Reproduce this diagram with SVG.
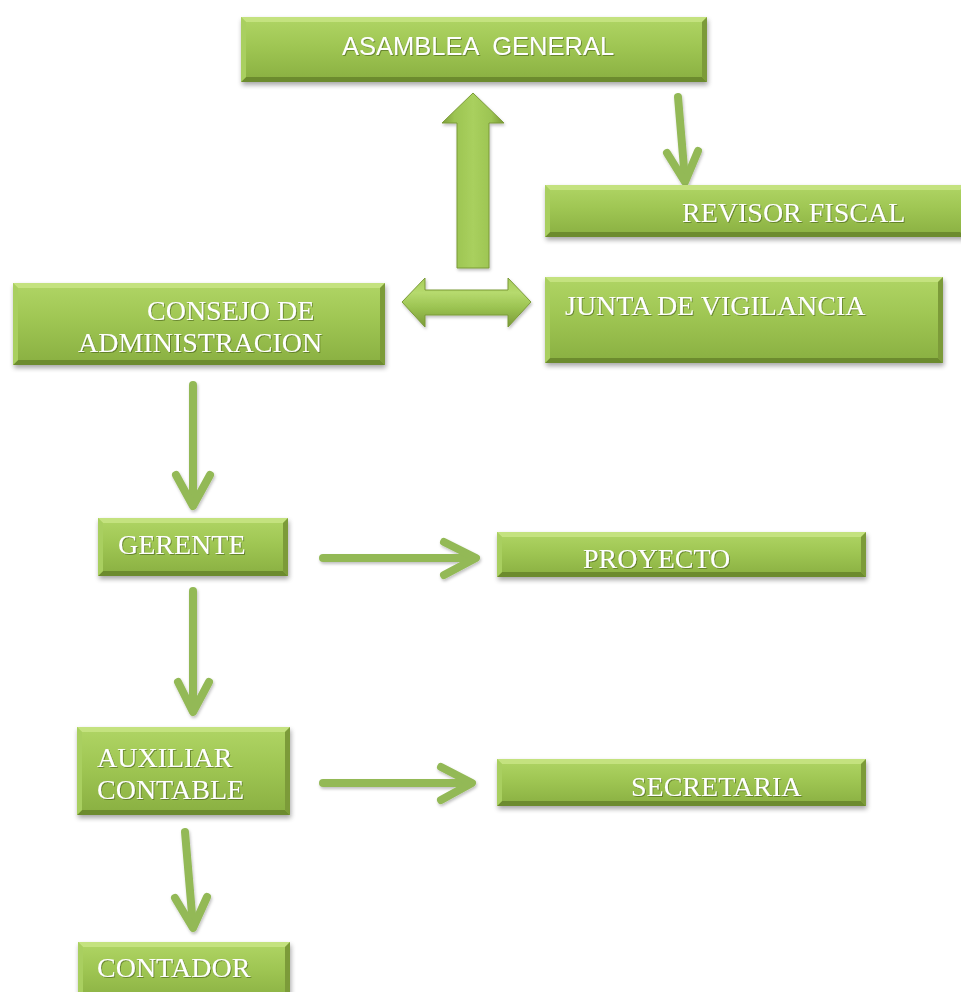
<svg xmlns="http://www.w3.org/2000/svg" width="961" height="992" viewBox="0 0 961 992">
<defs>
<linearGradient id="gBox" x1="0" y1="0" x2="0" y2="1">
<stop offset="0" stop-color="#b0d565"/>
<stop offset="0.45" stop-color="#9fc653"/>
<stop offset="1" stop-color="#89af41"/>
</linearGradient>
<linearGradient id="gUp" x1="0" y1="0" x2="1" y2="0">
<stop offset="0" stop-color="#7e9f3a"/>
<stop offset="0.2" stop-color="#9cc452"/>
<stop offset="0.5" stop-color="#a9d05e"/>
<stop offset="0.8" stop-color="#9cc452"/>
<stop offset="1" stop-color="#7a9a37"/>
</linearGradient>
<linearGradient id="gHz" x1="0" y1="0" x2="0" y2="1">
<stop offset="0" stop-color="#a7cd5c"/>
<stop offset="0.3" stop-color="#b6da6e"/>
<stop offset="0.6" stop-color="#9cc452"/>
<stop offset="1" stop-color="#7a9a37"/>
</linearGradient>
<filter id="shadow" x="-10%" y="-30%" width="120%" height="170%">
<feGaussianBlur stdDeviation="2.5"/>
</filter>
<filter id="ts" x="-5%" y="-20%" width="110%" height="140%">
<feDropShadow dx="1" dy="1" stdDeviation="0.6" flood-color="#3f5518" flood-opacity="0.55"/>
</filter>
<filter id="as" x="-20%" y="-20%" width="140%" height="140%">
<feDropShadow dx="1" dy="2" stdDeviation="1.5" flood-color="#000" flood-opacity="0.25"/>
</filter>
</defs>
<style>
.sh{fill:#000;opacity:0.35;filter:url(#shadow)}
.bx{fill:url(#gBox)}
.bt{fill:#c4e27f}
.bb{fill:#6c8b2e}
.bl{fill:#a9cf60}
.br{fill:#7c9b39}
.t{font-family:"Liberation Serif","Times New Roman",serif;font-size:28px;fill:#ffffff;filter:url(#ts)}
.ts{font-family:"Liberation Sans",Arial,sans-serif;font-size:25.5px;fill:#ffffff;filter:url(#ts)}
.ln{fill:none;stroke:#93b957;stroke-width:8;stroke-linecap:round;stroke-linejoin:round}
</style>
<rect width="961" height="992" fill="#ffffff"/>

<g id="connectors" filter="url(#as)">
<polygon points="473,93 504,123 489,123 489,268 457,268 457,123 442,123" fill="url(#gUp)" stroke="#7a9a37" stroke-width="1"/>
<polygon points="402,302 425,278 425,290 508,290 508,278 531,302 508,327 508,315 425,315 425,327" fill="url(#gHz)" stroke="#7a9a37" stroke-width="1"/>
<line class="ln" x1="678" y1="97" x2="685" y2="180"/>
<polyline class="ln" points="667,153 685,182 698,151"/>
<line class="ln" x1="193" y1="385" x2="193" y2="504"/>
<polyline class="ln" points="176,475 193,506 210,475"/>
<line class="ln" x1="323" y1="558" x2="474" y2="558"/>
<polyline class="ln" points="444,542 476,558 444,575"/>
<line class="ln" x1="193" y1="591" x2="193" y2="710"/>
<polyline class="ln" points="178,682 193,712 209,682"/>
<line class="ln" x1="323" y1="783" x2="470" y2="783"/>
<polyline class="ln" points="441,767 472,783 441,800"/>
<line class="ln" x1="185" y1="832" x2="193" y2="926"/>
<polyline class="ln" points="175,898 193,928 207,897"/>
</g>

<g id="asamblea">
<rect class="sh" x="242" y="20" width="466" height="65"/>
<rect class="bx" x="241" y="17" width="466" height="65"/>
<polygon class="bt" points="241,17 707,17 702,22 246,22"/>
<polygon class="bb" points="241,82 707,82 702,77 246,77"/>
<polygon class="bl" points="241,17 246,22 246,77 241,82"/>
<polygon class="br" points="707,17 702,22 702,77 707,82"/>
<text class="ts" x="342" y="55" xml:space="preserve">ASAMBLEA  GENERAL</text>
</g>

<g id="revisor">
<rect class="sh" x="546" y="188" width="420" height="52"/>
<rect class="bx" x="545" y="185" width="420" height="52"/>
<polygon class="bt" points="545,185 965,185 960,190 550,190"/>
<polygon class="bb" points="545,237 965,237 960,232 550,232"/>
<polygon class="bl" points="545,185 550,190 550,232 545,237"/>
<text class="t" x="682" y="222">REVISOR FISCAL</text>
</g>

<g id="junta">
<rect class="sh" x="546" y="280" width="398" height="86"/>
<rect class="bx" x="545" y="277" width="398" height="86"/>
<polygon class="bt" points="545,277 943,277 938,282 550,282"/>
<polygon class="bb" points="545,363 943,363 938,358 550,358"/>
<polygon class="bl" points="545,277 550,282 550,358 545,363"/>
<polygon class="br" points="943,277 938,282 938,358 943,363"/>
<text class="t" x="565" y="315">JUNTA DE VIGILANCIA</text>
</g>

<g id="consejo">
<rect class="sh" x="14" y="286" width="372" height="82"/>
<rect class="bx" x="13" y="283" width="372" height="82"/>
<polygon class="bt" points="13,283 385,283 380,288 18,288"/>
<polygon class="bb" points="13,365 385,365 380,360 18,360"/>
<polygon class="bl" points="13,283 18,288 18,360 13,365"/>
<polygon class="br" points="385,283 380,288 380,360 385,365"/>
<text class="t" x="147" y="320">CONSEJO DE</text>
<text class="t" x="78" y="352">ADMINISTRACION</text>
</g>

<g id="gerente">
<rect class="sh" x="99" y="521" width="190" height="58"/>
<rect class="bx" x="98" y="518" width="190" height="58"/>
<polygon class="bt" points="98,518 288,518 283,523 103,523"/>
<polygon class="bb" points="98,576 288,576 283,571 103,571"/>
<polygon class="bl" points="98,518 103,523 103,571 98,576"/>
<polygon class="br" points="288,518 283,523 283,571 288,576"/>
<text class="t" x="118" y="554">GERENTE</text>
</g>

<g id="proyecto">
<rect class="sh" x="498" y="535" width="369" height="45"/>
<rect class="bx" x="497" y="532" width="369" height="45"/>
<polygon class="bt" points="497,532 866,532 861,537 502,537"/>
<polygon class="bb" points="497,577 866,577 861,572 502,572"/>
<polygon class="bl" points="497,532 502,537 502,572 497,577"/>
<polygon class="br" points="866,532 861,537 861,572 866,577"/>
<text class="t" x="583" y="568">PROYECTO</text>
</g>

<g id="auxiliar">
<rect class="sh" x="78" y="730" width="213" height="88"/>
<rect class="bx" x="77" y="727" width="213" height="88"/>
<polygon class="bt" points="77,727 290,727 285,732 82,732"/>
<polygon class="bb" points="77,815 290,815 285,810 82,810"/>
<polygon class="bl" points="77,727 82,732 82,810 77,815"/>
<polygon class="br" points="290,727 285,732 285,810 290,815"/>
<text class="t" x="97" y="767">AUXILIAR</text>
<text class="t" x="97" y="799">CONTABLE</text>
</g>

<g id="secretaria">
<rect class="sh" x="498" y="762" width="369" height="47"/>
<rect class="bx" x="497" y="759" width="369" height="47"/>
<polygon class="bt" points="497,759 866,759 861,764 502,764"/>
<polygon class="bb" points="497,806 866,806 861,801 502,801"/>
<polygon class="bl" points="497,759 502,764 502,801 497,806"/>
<polygon class="br" points="866,759 861,764 861,801 866,806"/>
<text class="t" x="631" y="796">SECRETARIA</text>
</g>

<g id="contador">
<rect class="sh" x="79" y="945" width="212" height="60"/>
<rect class="bx" x="78" y="942" width="212" height="60"/>
<polygon class="bt" points="78,942 290,942 285,947 83,947"/>
<polygon class="bl" points="78,942 83,947 83,1002 78,1002"/>
<polygon class="br" points="290,942 285,947 285,1002 290,1002"/>
<text class="t" x="97" y="977">CONTADOR</text>
</g>
</svg>
